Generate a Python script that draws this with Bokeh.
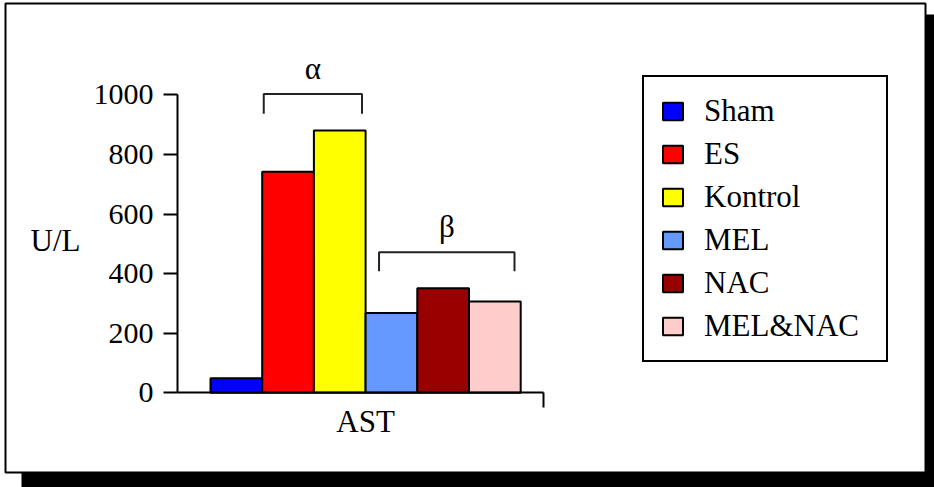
from bokeh.plotting import figure
from bokeh.models import (ColumnDataSource, Range1d, LinearAxis, FixedTicker,
                          Legend, LegendItem, Label)
from bokeh.embed import file_html
from bokeh.resources import INLINE

# ---- data ----
groups = ["Sham", "ES", "Kontrol", "MEL", "NAC", "MEL&NAC"]
ast_values = [49, 742, 880, 268, 351, 306]
bar_colors = ["#0000ff", "#ff0000", "#ffff00", "#6699ff", "#990000", "#ffcccc"]
y_ticks = [0, 200, 400, 600, 800, 1000]
category = "AST"
unit_label = "U/L"
sig_labels = ["α", "β"]

# ---- layout (pixels) ----
W, H = 934, 487
PX_X = 51.7          # px per bar
PX_Y = 0.298         # px per U/L
ORIGIN_X = 210.0     # px of first bar's left edge
ORIGIN_Y = 392.3     # px (from top) of value 0

x0 = -ORIGIN_X / PX_X
x1 = (W - ORIGIN_X) / PX_X
y0 = -(H - ORIGIN_Y) / PX_Y
y1 = ORIGIN_Y / PX_Y


def dx(px):
    return x0 + px / PX_X


def dy(py):
    return y1 - py / PX_Y


FONT = "Liberation Serif"

p = figure(width=W, height=H, x_range=Range1d(x0, x1), y_range=Range1d(y0, y1),
           output_backend="svg", toolbar_location=None,
           x_axis_location=None, y_axis_location=None,
           min_border=0, outline_line_color=None,
           background_fill_color="white", border_fill_color="white")
p.grid.visible = False

# outer frame with drop shadow
p.quad(left=[dx(21)], right=[dx(934)], top=[dy(14)], bottom=[dy(487)],
       fill_color="black", line_color=None)
p.quad(left=[dx(5)], right=[dx(925)], top=[dy(3)], bottom=[dy(472)],
       fill_color="white", line_color="black", line_width=2)

# bars
src = ColumnDataSource(dict(x=[i + 0.5 for i in range(len(groups))],
                            top=ast_values, color=bar_colors, label=groups))
bars = p.vbar(x="x", top="top", bottom=0, width=1, fill_color="color",
              line_color="black", line_width=2, source=src)

# y axis
yax = LinearAxis(fixed_location=dx(177), bounds=(0, 1000),
                 ticker=FixedTicker(ticks=y_ticks),
                 major_tick_out=14, major_tick_in=0,
                 minor_tick_out=0, minor_tick_in=0,
                 axis_line_width=2, major_tick_line_width=2,
                 axis_line_color="black", major_tick_line_color="black",
                 major_label_text_font=FONT, major_label_text_font_size="30px",
                 major_label_text_color="black", major_label_standoff=10)
p.add_layout(yax, "left")

# x axis
center = len(groups) / 2.0
xax = LinearAxis(fixed_location=0, bounds=(dx(177), dx(543)),
                 ticker=FixedTicker(ticks=[center], minor_ticks=[dx(543)]),
                 major_tick_out=0, major_tick_in=0,
                 minor_tick_out=15, minor_tick_in=0,
                 axis_line_width=2, minor_tick_line_width=2,
                 axis_line_color="black", minor_tick_line_color="black",
                 major_label_overrides={center: category},
                 major_label_text_font=FONT, major_label_text_font_size="31px",
                 major_label_text_color="black", major_label_standoff=-4)
p.add_layout(xax, "below")

# unit label
p.add_layout(Label(x=dx(30), y=dy(240), text=unit_label, text_font=FONT,
                   text_font_size="31px", text_baseline="middle",
                   text_align="left", text_color="black"))

# significance brackets
br_left = [1.03, 3.26]
br_right = [2.93, 5.88]
br_top = [1003, 472]
br_leg = [936, 408]
p.multi_line(xs=[[l, l, r, r] for l, r in zip(br_left, br_right)],
             ys=[[b, t, t, b] for t, b in zip(br_top, br_leg)],
             line_color="#222222", line_width=2)
for l, r, t, s in zip(br_left, br_right, br_top, sig_labels):
    p.add_layout(Label(x=(l + r) / 2, y=t + 86, text=s, text_font=FONT,
                       text_font_size="31px", text_align="center",
                       text_baseline="middle", text_color="black"))

# legend
legend = Legend(items=[LegendItem(label=g, renderers=[bars], index=i)
                       for i, g in enumerate(groups)],
                location=(642, H - 362), orientation="vertical",
                border_line_color="black", border_line_width=2,
                border_line_alpha=1.0,
                background_fill_color="white", background_fill_alpha=1,
                label_text_font=FONT, label_text_font_size="31px",
                label_text_color="black",
                glyph_width=25, glyph_height=22, label_height=22,
                label_width=166,
                label_standoff=19, spacing=7, padding=16, margin=0)
p.add_layout(legend)

open("out.html", "w").write(file_html(p, INLINE))
